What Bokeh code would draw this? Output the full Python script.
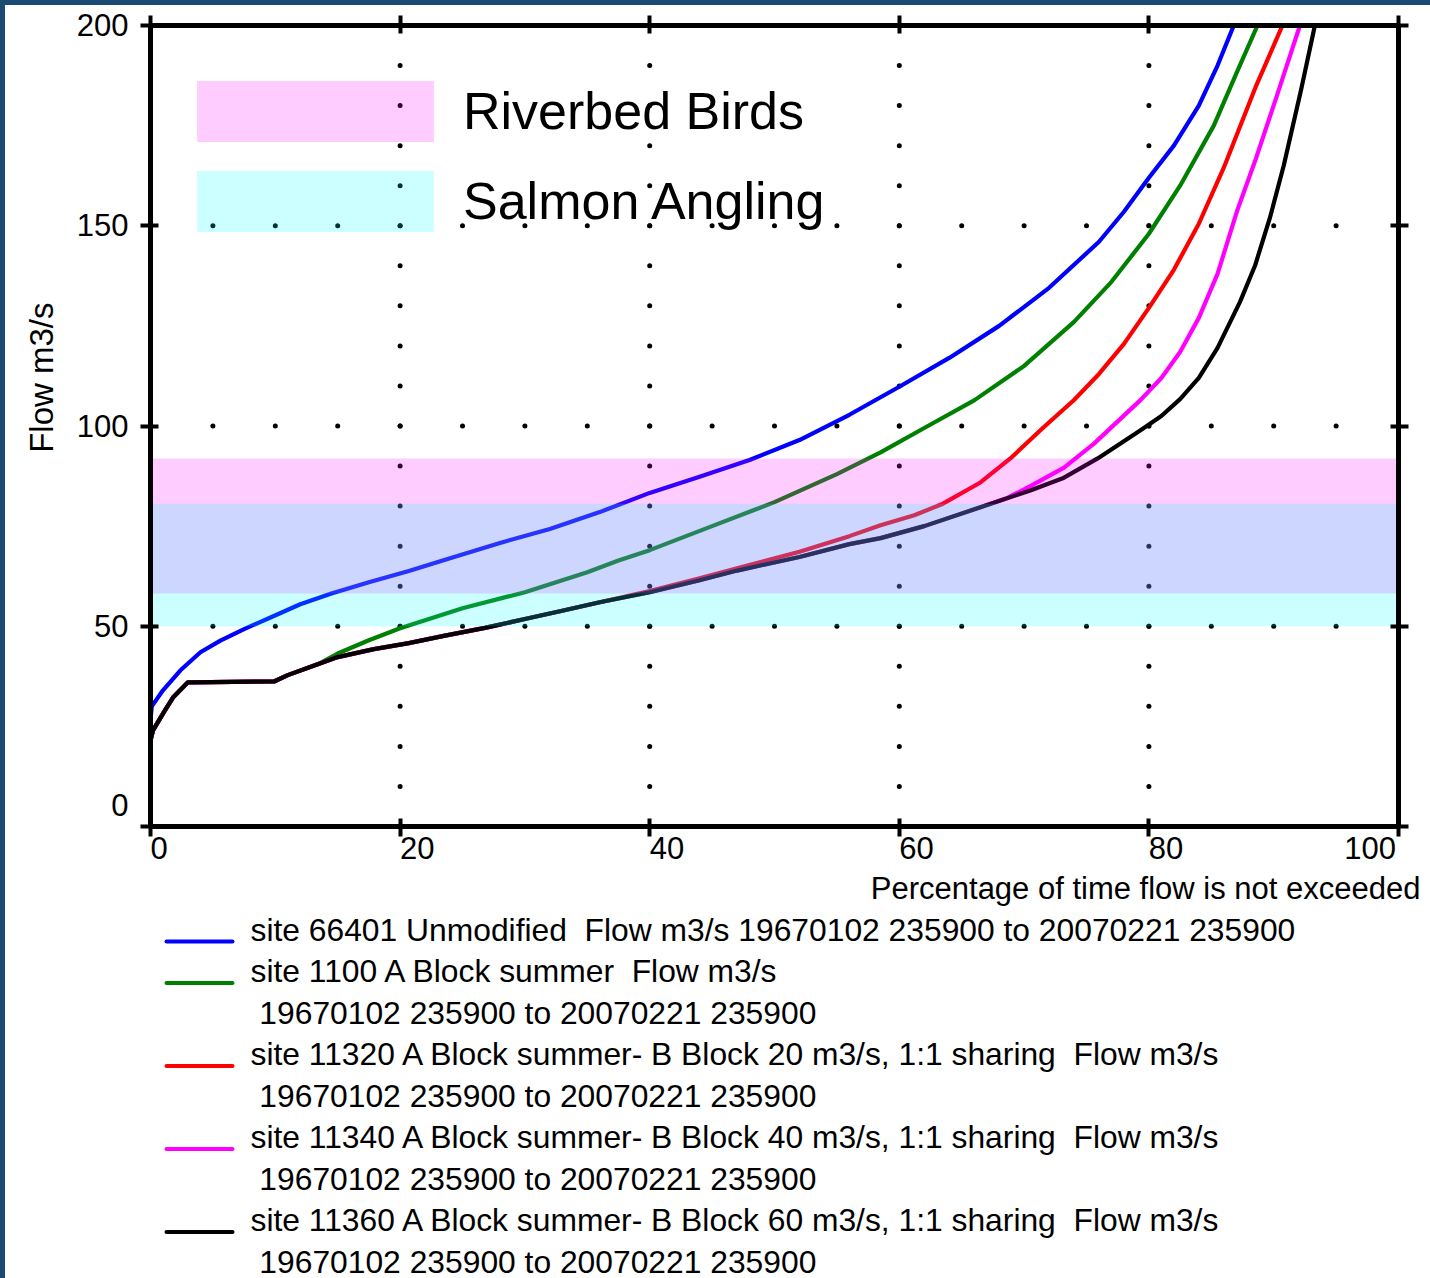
from bokeh.plotting import figure
from bokeh.models import (Range1d, FixedTicker, LinearAxis, Legend, LegendItem,
                          Title, CustomLabelingPolicy)
from bokeh.layouts import column
from bokeh.embed import file_html
from bokeh.resources import INLINE
from bokeh.core.properties import value

# Flow duration curves: percentage of time flow is not exceeded vs flow (m3/s)
pct_66401 = [0, 0.1, 1.0, 2.4, 4.0, 5.6, 7.5, 10.2, 12.0, 14.5, 17.5, 20.7, 24.0, 28.0, 32.0, 36.0,
             40.0, 44.0, 48.0, 52.0, 56.0, 60.0, 64.0, 68.0, 72.0, 76.0, 78.0, 80.0, 82.0, 84.0,
             85.5, 86.8]
flow_66401 = [26.5, 30.0, 34.0, 39.0, 43.5, 46.4, 49.3, 53.0, 55.5, 58.2, 61.0, 63.8, 67.0, 70.8, 74.3, 78.5,
              83.3, 87.3, 91.5, 96.5, 102.8, 109.8, 117.0, 125.0, 134.5, 146.0, 153.5, 162.0, 170.0, 180.0,
              190.0, 200.0]

pct_1100 = [0, 0.2, 1.0, 1.8, 3.0, 9.9, 11.0, 13.6, 15.0, 17.5, 20.0, 25.0, 30.0, 35.0, 37.5, 40.0,
            45.0, 50.0, 55.0, 58.5, 62.0, 66.0, 70.0, 74.0, 77.0, 80.0, 82.5, 85.2, 87.0, 88.7]
flow_1100 = [21.5, 24.0, 28.2, 32.2, 36.0, 36.2, 37.8, 40.8, 43.2, 46.5, 49.5, 54.5, 58.5, 63.5, 66.4, 69.0,
             75.0, 81.0, 88.0, 93.4, 99.5, 106.4, 115.0, 126.0, 136.0, 148.0, 160.0, 175.0, 188.0, 200.0]

pct_11320 = [0, 0.2, 1.0, 1.8, 3.0, 9.9, 11.0, 13.4, 15.0, 17.9, 20.7, 23.5, 26.8, 30.0, 32.9, 36.0,
             40.0, 44.0, 47.3, 52.0, 56.0, 58.5, 61.2, 63.5, 66.5, 68.9, 71.5, 74.0, 76.0, 78.0,
             80.0, 82.0, 84.0, 86.0, 88.6, 90.7]
flow_11320 = [21.5, 24.0, 28.2, 32.2, 36.0, 36.2, 37.8, 40.5, 42.3, 44.3, 45.8, 47.6, 49.6, 51.8, 53.8, 56.0,
              58.8, 62.0, 64.7, 68.6, 72.5, 75.2, 77.7, 80.6, 85.9, 91.9, 99.5, 106.5, 113.0, 120.5,
              129.5, 139.0, 150.5, 164.5, 185.0, 200.0]

pct_11340 = [0, 0.2, 1.0, 1.8, 3.0, 9.9, 11.0, 13.4, 15.0, 17.9, 20.7, 23.5, 26.8, 30.0, 32.9, 36.0,
             40.0, 44.0, 47.0, 52.0, 56.0, 58.5, 62.0, 66.5, 68.7, 70.5, 73.2, 75.6, 79.3, 81.0, 82.5,
             84.0, 85.5, 87.1, 88.6, 90.1, 92.1]
flow_11340 = [21.5, 24.0, 28.2, 32.2, 36.0, 36.2, 37.8, 40.5, 42.3, 44.3, 45.8, 47.6, 49.6, 51.8, 53.8, 56.0,
              58.5, 61.5, 63.9, 67.3, 70.5, 72.0, 75.0, 79.7, 82.1, 85.0, 89.6, 95.6, 106.4, 112.0, 118.5,
              127.0, 138.0, 154.0, 167.0, 181.0, 200.0]

pct_11360 = [0, 0.2, 1.0, 1.8, 3.0, 9.9, 11.0, 13.4, 15.0, 17.9, 20.7, 23.5, 26.8, 30.0, 32.9, 36.0,
             40.0, 44.0, 47.0, 52.0, 56.0, 58.5, 62.0, 66.5, 70.5, 73.2, 75.9, 79.3, 81.0, 82.5, 84.0,
             85.5, 87.3, 88.5, 89.7, 90.8, 92.2, 93.3]
flow_11360 = [21.5, 24.0, 28.2, 32.2, 36.0, 36.2, 37.8, 40.5, 42.3, 44.3, 45.8, 47.6, 49.6, 51.8, 53.8, 56.0,
              58.5, 61.5, 63.9, 67.3, 70.5, 72.0, 75.0, 79.7, 83.9, 87.1, 91.9, 98.9, 102.5, 106.7, 112.0,
              119.5, 131.0, 140.0, 152.0, 165.0, 184.0, 200.0]

series_labels = [
    "site 66401 Unmodified  Flow m3/s 19670102 235900 to 20070221 235900",
    "site 1100 A Block summer  Flow m3/s\n 19670102 235900 to 20070221 235900",
    "site 11320 A Block summer- B Block 20 m3/s, 1:1 sharing  Flow m3/s\n 19670102 235900 to 20070221 235900",
    "site 11340 A Block summer- B Block 40 m3/s, 1:1 sharing  Flow m3/s\n 19670102 235900 to 20070221 235900",
    "site 11360 A Block summer- B Block 60 m3/s, 1:1 sharing  Flow m3/s\n 19670102 235900 to 20070221 235900",
]
series_pct = [pct_66401, pct_1100, pct_11320, pct_11340, pct_11360]
series_flow = [flow_66401, flow_1100, flow_11320, flow_11340, flow_11360]
series_colors = ["#0000ff", "#008000", "#ff0000", "#ff00ff", "#000000"]

# Flow bands of interest (m3/s)
band_names = ["Riverbed Birds", "Salmon Angling"]
band_low = [58.2, 50.0]
band_high = [91.9, 80.6]
band_colors = ["#ff00ff", "#00ffff"]

x_ticks = [0, 20, 40, 60, 80, 100]
y_ticks = [0, 50, 100, 150, 200]
grid_x = [20, 40, 60, 80]
grid_y = [50, 100, 150]

FONT = "Liberation Sans"
NAVY = "#184a74"
NBSP = "\u00a0"

p = figure(width=1425, height=906, x_range=Range1d(0, 100), y_range=Range1d(0, 200),
           output_backend="svg", toolbar_location=None,
           x_axis_location=None, y_axis_location=None,
           min_border_left=145, min_border_right=32, min_border_top=20, min_border_bottom=85)
p.grid.visible = False
p.background_fill_color = "white"
p.border_fill_color = "white"
p.outline_line_color = "black"
p.outline_line_width = 5


def make_axis(ticks, labels=True):
    ax = LinearAxis(ticker=FixedTicker(ticks=ticks))
    ax.axis_line_width = 5
    ax.axis_line_color = "black"
    ax.major_tick_line_width = 4
    ax.major_tick_line_color = "black"
    ax.major_tick_in = 8
    ax.major_tick_out = 10
    ax.minor_tick_line_color = None
    ax.major_label_text_font = FONT
    ax.major_label_text_color = "black"
    ax.major_label_text_font_size = "31px"
    if not labels:
        ax.major_label_policy = CustomLabelingPolicy(code="")
        ax.major_label_text_font_size = "0px"
        ax.major_label_standoff = 0
    return ax


# x labels sit to the right of their tick, the last one to its left
def x_label(t):
    if t == x_ticks[-1]:
        return str(t) + NBSP * 4
    return NBSP * (2 * len(str(t))) + str(t)


bottom_ax = make_axis(x_ticks)
bottom_ax.major_label_standoff = -6
bottom_ax.major_label_overrides = {t: x_label(t) for t in x_ticks}
left_ax = make_axis(y_ticks)
left_ax.major_label_standoff = 12
# the zero label is lifted clear of the x labels
left_ax.major_label_overrides = {y_ticks[0]: str(y_ticks[0]) + "\n" + NBSP}
top_ax = make_axis(x_ticks, labels=False)
right_ax = make_axis(y_ticks, labels=False)
p.add_layout(bottom_ax, "below")
p.add_layout(left_ax, "left")
p.add_layout(top_ax, "above")
p.add_layout(right_ax, "right")

p.add_layout(Title(text="Percentage of time flow is not exceeded", align="right", offset=-22,
                   standoff=0, text_font=FONT, text_font_size="31px", text_font_style="normal",
                   text_color="black"), "below")
p.add_layout(Title(text="Flow m3/s", align="right", offset=277, standoff=28,
                   text_font=FONT, text_font_size="33px", text_font_style="normal",
                   text_color="black"), "left")

# dotted grid
dot_x, dot_y = [], []
for gx in grid_x:
    for gy in range(10, 200, 10):
        dot_x.append(gx)
        dot_y.append(gy)
for gy in grid_y:
    for gx in range(5, 100, 5):
        dot_x.append(gx)
        dot_y.append(gy)
p.scatter(dot_x, dot_y, size=5, color="black", line_color=None)

# duration curves
for xs, ys, c in zip(series_pct, series_flow, series_colors):
    p.line(xs, ys, line_color=c, line_width=4.2, line_join="round", line_cap="round")

# translucent bands drawn over the curves
band_renderers = []
for lo, hi, c in zip(band_low, band_high, band_colors):
    r = p.quad(left=[0], right=[100], bottom=[lo], top=[hi],
               fill_color=c, fill_alpha=0.2, line_color=None)
    band_renderers.append(r)

band_legend = Legend(
    items=[LegendItem(label=n, renderers=[r]) for n, r in zip(band_names, band_renderers)],
    location=(17, 587), glyph_width=296, glyph_height=76, spacing=14, padding=0, margin=0,
    label_standoff=0, label_text_font=FONT, label_text_font_size="52px",
    label_text_color="black", background_fill_alpha=0, border_line_color=None,
)
p.add_layout(band_legend)

# series legend underneath, positioned in page pixels
LEG_H = 367
q = figure(width=1425, height=LEG_H, x_range=Range1d(150, 1398), y_range=Range1d(911 + LEG_H, 911),
           output_backend="svg", toolbar_location=None,
           x_axis_location=None, y_axis_location=None,
           min_border_left=145, min_border_right=32, min_border_top=0, min_border_bottom=0)
q.grid.visible = False
q.outline_line_color = None
q.background_fill_color = "white"
q.border_fill_color = "white"

tx, ty, tt = [], [], []
sx0, sx1, sy, sc = [], [], [], []
row = 929.0
step = 41.5
for lab, c in zip(series_labels, series_colors):
    lines = lab.split("\n")
    sx0.append(166)
    sx1.append(232)
    sy.append(row + 12)
    sc.append(c)
    for k, ln in enumerate(lines):
        shown = ln.replace("  ", " " + NBSP)
        if shown.startswith(" "):
            shown = NBSP + shown[1:]
        tx.append(250)
        ty.append(row + k * step)
        tt.append(shown)
    row += step * len(lines)

q.segment(x0=sx0, y0=sy, x1=sx1, y1=sy, line_color=sc, line_width=4, line_cap="round")
q.text(x=tx, y=ty, text=tt, text_font=value(FONT), text_font_size="31.8px",
       text_align="left", text_baseline="middle", text_color="black")

page = column(p, q, spacing=0,
              styles={"background-color": "white",
                      "border-left": "5px solid " + NAVY, "border-top": "5px solid " + NAVY})

open("out.html", "w").write(file_html(page, INLINE))
